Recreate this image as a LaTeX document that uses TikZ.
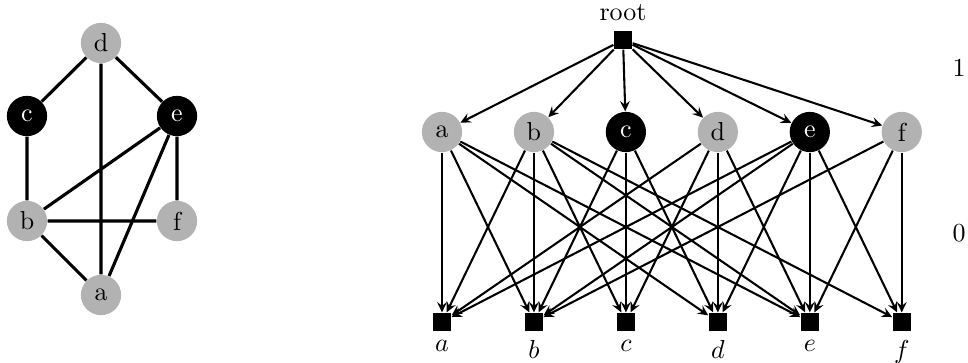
\documentclass[tikz,border=0pt]{standalone}
\usepackage{tikz}
\definecolor{nodegray}{RGB}{178, 178, 178}
\usetikzlibrary{
  arrows.meta,
  positioning,
}
\tikzset{
  >={Stealth[length=4pt,width=3.8pt,inset=1.5pt]},
  vtx/.style={circle,minimum size=15.5pt,inner sep=0pt,fill=nodegray},
  vtxblack/.style={vtx,fill=black,text=white},
  leaf/.style={rectangle,minimum size=7pt,inner sep=0pt,fill=black},
}

\begin{document}
\begin{tikzpicture}[x=0.385pt,y=-0.385pt,node distance=0mm and 19.5pt]

      \useasboundingbox (0,0) rectangle (968,363);

      % the graph
      \node[vtx]      (gd) at (101,43)  {d};
      \node[vtxblack] (gc) at (27,116)  {c};
      \node[vtxblack] (ge) at (177,116) {e};
      \node[vtx]      (gb) at (27,221)  {b};
      \node[vtx]      (gf) at (177,221) {f};
      \node[vtx]      (ga) at (101,295) {a};

      \draw[very thick] (gd) -- (gc) (gd) -- (ge) (gd) -- (ga)
                        (gc) -- (gb) (ge) -- (gb) (ge) -- (ga)
                        (ge) -- (gf) (gb) -- (gf) (gb) -- (ga);

      % level 1
      \node[leaf,label=above:root]    (root) at (623,40)   {};
      \node[vtx]      (a1) at (442,132)  {a};
      \node[vtx]      (b1) [right=of a1] {b};
      \node[vtxblack] (c1) [right=of b1] {c};
      \node[vtx]      (d1) [right=of c1] {d};
      \node[vtxblack] (e1) [right=of d1] {e};
      \node[vtx]      (f1) [right=of e1] {f};

      % level 0
      \node[leaf,label=below:$a$] (a0) [below=61.5pt of a1] {};
      \node[leaf,label=below:$b$] (b0) [below=61.5pt of b1] {};
      \node[leaf,label=below:$c$] (c0) [below=61.5pt of c1] {};
      \node[leaf,label=below:$d$] (d0) [below=61.5pt of d1] {};
      \node[leaf,label=below:$e$] (e0) [below=61.5pt of e1] {};
      \node[leaf,label=below:$f$] (f0) [below=61.5pt of f1] {};

      \node (lev1) at (959,68)  {1};
      \node (lev0) at (959,233) {0};

      \path[thick,->] (root) edge (a1) edge (b1) edge (c1) edge (d1) edge (e1) edge (f1);
      \path[thick,->] (a1) edge (a0) edge (b0) edge (d0) edge (e0);
      \path[thick,->] (b1) edge (a0) edge (b0) edge (c0) edge (e0) edge (f0);
      \path[thick,->] (c1) edge (b0) edge (c0) edge (d0);
      \path[thick,->] (d1) edge (a0) edge (c0) edge (d0) edge (e0);
      \path[thick,->] (e1) edge (a0) edge (b0) edge (d0) edge (e0) edge (f0);
      \path[thick,->] (f1) edge (b0) edge (e0) edge (f0);

    \end{tikzpicture}
\end{document}
